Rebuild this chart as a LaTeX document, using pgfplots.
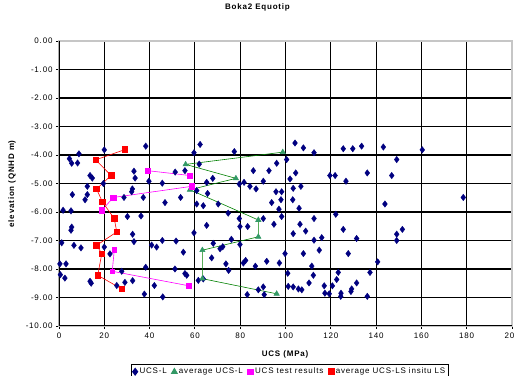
\documentclass[border=0pt]{standalone}
\usepackage{fontspec}
\setmainfont{Liberation Sans}
\newfontfamily\cf{Liberation Sans}[LetterSpace=10]
\usepackage{pgfplots}
\pgfplotsset{compat=1.18}
\definecolor{ucsnavy}{RGB}{0,0,128}
\definecolor{avggreen}{RGB}{51,153,102}
\definecolor{avgline}{RGB}{0,128,0}
\definecolor{ucsmag}{RGB}{255,0,255}
\definecolor{avgred}{RGB}{255,0,0}
\begin{document}
\begin{tikzpicture}
\begin{axis}[
  scale only axis, width=453pt, height=285pt,
  xmin=0, xmax=200, ymin=-10, ymax=0,
  xtick={0,20,...,200}, ytick={-10,-9,...,0},
  grid=major, major grid style={black, line width=1.1pt},
  axis line style={draw=gray!45, line width=1.2pt},
  tick style={black, line width=0.9pt}, tick align=outside, major tick length=3pt,
  xtick pos=bottom, ytick pos=left,
  /pgf/number format/assume math mode=true,
  yticklabel style={/pgf/number format/.cd, fixed, zerofill, precision=2},
  xticklabel style={/pgf/number format/.cd, fixed, precision=0},
  ticklabel style={font=\cf\fontsize{8}{9}\selectfont},
  title={\textbf{Boka2 Equotip}},
  title style={at={(0.439,1.0912)}, anchor=base, font=\cf\fontsize{8}{9}\selectfont},
  xlabel={\textbf{UCS (MPa)}},
  xlabel style={at={(0.5,-0.1088)}, anchor=base, font=\cf\fontsize{8}{9}\selectfont},
  ylabel={\textbf{elevation (QNHD m)}},
  ylabel style={at={(-0.1038,0.5)}, anchor=center, font=\cf\fontsize{8}{9}\selectfont},
  legend columns=4,
  legend style={at={(0.51,-0.1333)}, anchor=north, draw=black, line width=1.2pt,
    font=\cf\fontsize{8}{9}\selectfont, inner sep=1.5pt,
    /tikz/every even column/.append style={column sep=3pt}},
]
\coordinate (bl) at (rel axis cs:0,0);
\coordinate (tr) at (rel axis cs:1,1);
\addlegendimage{only marks, mark=diamond*, mark size=3.2pt, color=ucsnavy}
\addlegendentry{UCS-L}
\addlegendimage{only marks, mark=triangle*, mark size=3pt, color=avggreen}
\addlegendentry{average UCS-L}
\addlegendimage{only marks, mark=square*, mark size=2.6pt, color=ucsmag}
\addlegendentry{UCS test results}
\addlegendimage{only marks, mark=square*, mark size=2.8pt, color=avgred}
\addlegendentry{average UCS-LS insitu LS}

% UCS-L scatter
\addplot[forget plot, only marks, mark=diamond*, mark size=3.2pt, color=ucsnavy] table {
x y
20.0 -3.82
38.3 -3.69
4.6 -4.13
8.8 -3.96
5.6 -4.29
8.2 -4.28
13.7 -4.72
14.7 -4.81
33.1 -4.57
33.6 -4.81
12.5 -5.10
32.4 -5.19
32.1 -5.29
5.9 -5.39
12.5 -5.39
11.5 -5.57
28.7 -5.49
37.2 -5.49
46.8 -5.67
1.8 -5.94
5.3 -5.96
30.2 -6.16
36.2 -6.14
5.6 -6.53
5.3 -6.64
32.5 -6.78
33.1 -7.04
1.2 -7.08
6.6 -7.17
9.7 -7.26
40.9 -7.16
43.1 -7.23
45.6 -7.00
20.0 -7.23
22.5 -7.47
0.4 -7.82
3.1 -7.82
0.6 -8.20
2.6 -8.32
38.3 -7.94
27.7 -8.08
13.7 -8.43
14.2 -8.50
25.5 -8.58
29.1 -8.47
32.5 -8.41
42.1 -8.58
37.7 -8.88
45.8 -8.98
19.6 -5.00
39.7 -4.92
51.7 -7.02
54.9 -7.41
51.2 -8.00
55.6 -8.16
56.4 -8.22
62.3 -3.63
59.6 -3.92
51.3 -4.60
55.6 -4.55
60.8 -5.25
65.2 -4.96
60.8 -5.72
63.7 -5.78
65.2 -6.47
59.6 -6.73
63.7 -8.35
77.4 -3.88
104.2 -3.58
107.9 -3.75
112.6 -3.92
125.5 -3.78
100.5 -4.16
96.1 -4.29
61.9 -4.32
67.9 -4.82
85.8 -4.55
92.7 -4.55
104.5 -4.63
119.6 -4.72
121.9 -4.72
126.7 -4.92
45.6 -4.99
79.6 -5.02
81.7 -4.96
84.3 -5.10
87.0 -5.19
90.2 -4.92
102.0 -4.84
103.4 -5.17
106.8 -5.10
95.8 -5.29
98.3 -5.29
65.6 -5.35
53.7 -5.49
70.3 -5.72
93.9 -5.67
98.0 -5.57
103.2 -5.57
106.0 -5.87
97.1 -5.90
122.2 -6.08
74.7 -6.04
79.6 -6.23
90.2 -6.23
98.3 -6.16
112.6 -6.23
79.9 -6.51
83.3 -6.51
94.9 -6.43
106.4 -6.43
108.9 -6.67
125.5 -6.61
103.4 -6.76
116.0 -6.90
76.1 -6.96
71.1 -7.29
72.3 -7.22
79.9 -7.14
114.9 -7.34
107.9 -7.46
99.8 -7.46
127.7 -7.46
67.4 -7.61
68.1 -7.10
91.7 -7.73
97.3 -7.79
73.7 -7.82
81.4 -7.79
82.4 -7.70
74.9 -8.05
86.7 -7.90
111.6 -7.90
101.0 -8.15
112.3 -8.22
123.3 -8.12
122.6 -8.37
61.5 -8.40
101.2 -8.61
103.4 -8.63
105.7 -8.70
117.1 -8.59
120.7 -8.59
117.4 -8.85
119.3 -8.87
124.5 -8.85
124.4 -8.96
90.2 -8.63
88.0 -8.73
90.6 -8.90
83.1 -8.90
107.2 -8.73
129.7 -3.78
133.6 -3.69
143.2 -3.72
160.4 -3.82
149.1 -4.16
136.1 -4.63
146.9 -4.72
178.5 -5.49
143.9 -5.72
112.6 -6.99
131.4 -6.93
149.1 -6.78
151.6 -6.61
149.1 -7.00
140.7 -7.75
137.3 -8.12
110.4 -8.49
131.4 -8.49
129.2 -8.70
128.9 -8.79
136.1 -8.96
};

% average UCS-L
\addplot[forget plot, color=avgline, line width=0.6pt, mark=triangle*, mark size=3pt,
  mark options={color=avggreen, fill=avggreen}] coordinates {
(98.8,-3.90) (55.9,-4.33) (78.1,-4.82) (57.8,-5.22) (88.0,-6.28)
(88.0,-6.87) (63.3,-7.34) (63.3,-8.34) (96.1,-8.87)
};

% UCS test results
\addplot[forget plot, color=ucsmag, line width=0.6pt, mark=square*, mark size=2.4pt] coordinates {
(39.2,-4.55) (57.8,-4.72)
};
\addplot[forget plot, color=ucsmag, line width=0.6pt, mark=square*, mark size=2.6pt] coordinates {
(58.6,-5.10) (24.0,-5.49) (18.9,-5.94)
};
\addplot[forget plot, color=ucsmag, line width=0.6pt, mark=square*, mark size=2.4pt] coordinates {
(24.4,-7.34) (23.5,-8.08) (57.4,-8.59)
};

% average UCS-LS
\addplot[forget plot, color=avgred, line width=0.6pt, mark=square*, mark size=2.8pt] coordinates {
(29.1,-3.81) (16.2,-4.17) (23.0,-4.72) (16.6,-5.19) (19.1,-5.64)
(24.4,-6.23) (25.5,-6.70) (16.6,-7.17) (18.9,-7.46) (17.1,-8.22) (27.7,-8.70)
};

\draw[black, line width=1.4pt] (rel axis cs:0,1) -- (rel axis cs:0,0) -- (rel axis cs:1,0);
\end{axis}
\pgfresetboundingbox
\useasboundingbox ([shift={(-59pt,-50pt)}]bl) rectangle ([shift={(3pt,41pt)}]tr);
\end{tikzpicture}
\end{document}
